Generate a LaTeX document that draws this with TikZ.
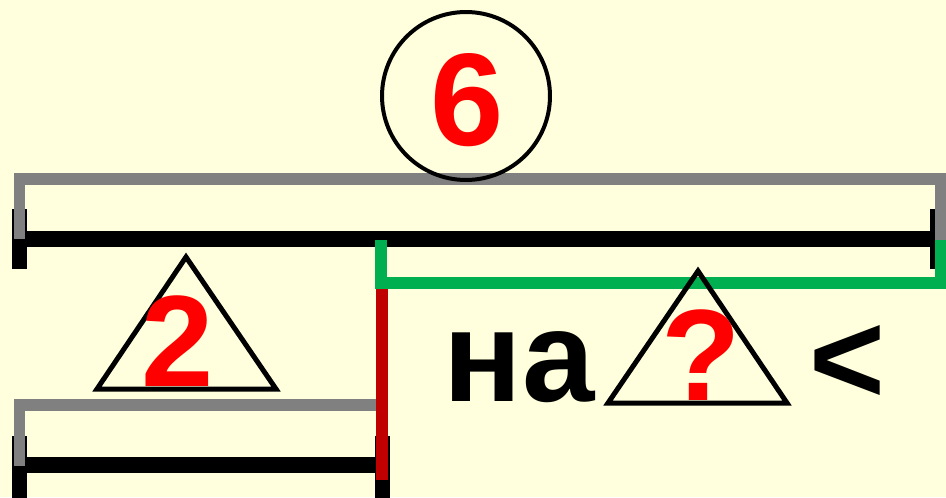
\documentclass[tikz,border=0pt]{standalone}
\usepackage{fontspec}
\setmainfont{Liberation Sans}
\usepackage{tikz}
\usetikzlibrary{positioning,calc}
\definecolor{paper}{RGB}{255,255,221}
\definecolor{partgreen}{RGB}{0,176,80}
\definecolor{joinred}{RGB}{192,0,0}
\definecolor{bracegray}{RGB}{128,128,128}

\begin{document}
\begin{tikzpicture}[x=0.02cm,y=-0.02cm,
  bar/.style={line width=0.32cm},
  tickmark/.style={line width=0.3cm},
  brace/.style={bracegray,line width=0.23cm,line join=miter},
  part/.style={partgreen,line width=0.23cm,line join=miter},
  joint/.style={joinred,line width=0.23cm},
  tri/.style={line width=0.1cm,line join=miter},
  num/.style={red,inner sep=0pt,font=\fontsize{74}{80}\selectfont\bfseries},
  word/.style={inner sep=0pt,font=\fontsize{74}{80}\selectfont\bfseries}]
  \fill[paper] (0,0) rectangle (946,497);
  \useasboundingbox (0,0) rectangle (946,497);
  % long segment
  \coordinate (top l) at (19.5,239);
  \coordinate (top r) at (937,239);
  \draw[bar] (top l) -- (top r);
  \draw[tickmark] (19.5,209) -- (19.5,269);
  \draw[tickmark] (937,209) -- (937,269);
  \draw[brace] (top l) -- (19.5,179) -- (941,179) -- (941,240);
  % whole
  \node[circle,draw,line width=0.08cm,minimum size=3.36cm,inner sep=0pt] (whole) at (466,96) {};
  \node[num,font=\fontsize{75}{80}\selectfont\bfseries,anchor=base] (six) at (467,145) {6};
  % short segment
  \coordinate (low l) at (19.5,465);
  \coordinate (low r) at (382,465);
  \draw[bar] (low l) -- (low r);
  \draw[tickmark] (19.5,436) -- (19.5,500);
  \draw[tickmark] (382.5,436) -- (382.5,500);
  \draw[brace] (19.5,466) -- (19.5,405) -- (377,405);
  % difference
  \coordinate (cut) at (381,240);
  \draw[part] (cut) -- (381,283) -- (941,283) -- (941,240);
  \draw[joint] (382,289) -- (382,480);
  % triangles
  \coordinate (t1 a) at (186,257);
  \coordinate (t1 b) at (97,389);
  \coordinate (t1 c) at (276,389);
  \draw[tri] (t1 a) -- (t1 b) -- (t1 c) -- cycle;
  \node[num,anchor=base] (two) at (178,386) {2};
  \coordinate (t2 a) at (698,271);
  \coordinate (t2 b) at (608,403);
  \coordinate (t2 c) at (787,403);
  \draw[tri] (t2 a) -- (t2 b) -- (t2 c) -- cycle;
  \node[num,anchor=base] (ask) at (701,400) {?};
  \node[word,anchor=base] (na) at (519,401) {на};
  \node[word,anchor=base] (less) at (847,403) {<};
\end{tikzpicture}
\end{document}
